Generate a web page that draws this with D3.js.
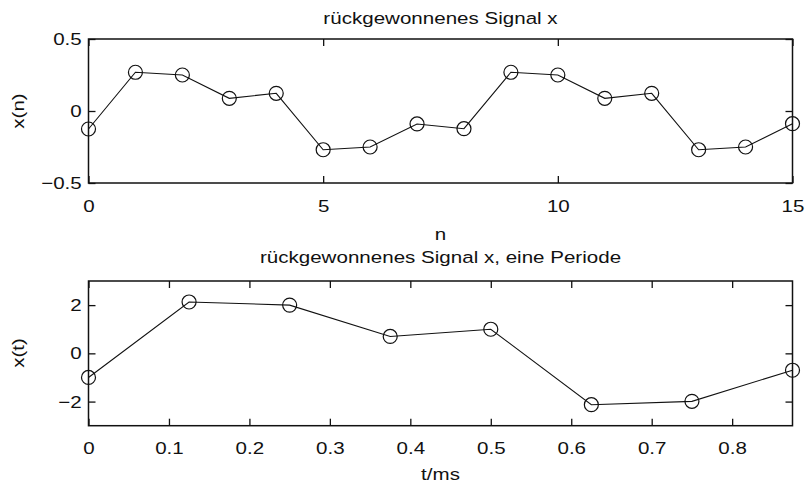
<!DOCTYPE html>
<html>
<head>
<meta charset="utf-8">
<script src="https://cdn.jsdelivr.net/npm/d3@7"></script>
<style>
  body { margin: 0; background: #fff; }
  svg text { font-family: "Liberation Sans", Arial, sans-serif; fill: #111; }
</style>
</head>
<body>
<svg id="chart" width="807" height="484"></svg>
<script>
// top panel: sample index and values
var nVals = [0, 1, 2, 3, 4, 5, 6, 7, 8, 9, 10, 11, 12, 13, 14, 15];
var xnVals = [-0.125, 0.269, 0.25, 0.088, 0.123, -0.269, -0.25, -0.09, -0.123, 0.269, 0.25, 0.088, 0.123, -0.269, -0.25, -0.088];
var nTicks = [0, 5, 10, 15];
var xnTicks = [-0.5, 0, 0.5];

// bottom panel: one period over time in ms
var tVals = [0, 0.125, 0.25, 0.375, 0.5, 0.625, 0.75, 0.875];
var xtVals = [-1.0, 2.13, 2.0, 0.7, 1.0, -2.13, -1.99, -0.7];
var tTicks = [0, 0.1, 0.2, 0.3, 0.4, 0.5, 0.6, 0.7, 0.8];
var xtTicks = [-2, 0, 2];

var svg = d3.select("#chart");
var fs = 17, sx = 1.21;   // glyphs in the reference are stretched horizontally
var left = 88.5, right = 792.5;
var fmt = d3.format("~g");

function label(x, y, txt, rot) {
  svg.append("text")
    .attr("transform", "translate(" + x + "," + y + ")" + (rot ? " rotate(-90)" : "") + " scale(" + sx + ",1)")
    .attr("text-anchor", "middle")
    .style("font-size", fs + "px")
    .text(txt);
}

function panel(xs, ys, xd, yd, xticks, yticks, top, bottom) {
  var x = d3.scaleLinear().domain(xd).range([left, right]);
  var y = d3.scaleLinear().domain(yd).range([bottom, top]);

  var ax = function(g) {
    g.select(".domain").remove();
    g.selectAll("line").attr("stroke", "#111").attr("stroke-width", 1.3);
    g.selectAll("text").style("font-size", fs + "px").attr("fill", "#111")
      .attr("font-family", null)
      .attr("transform", "scale(" + sx + ",1)");
  };

  svg.append("g").attr("transform", "translate(0," + bottom + ")")
    .call(d3.axisBottom(x).tickValues(xticks).tickFormat(fmt).tickSize(-7).tickPadding(16.5)).call(ax);
  svg.append("g").attr("transform", "translate(0," + top + ")")
    .call(d3.axisTop(x).tickValues(xticks).tickFormat("").tickSize(-7)).call(ax);
  svg.append("g").attr("transform", "translate(" + left + ",0)")
    .call(d3.axisLeft(y).tickValues(yticks).tickFormat(fmt).tickSize(-7).tickPadding(5.6)).call(ax);
  svg.append("g").attr("transform", "translate(" + right + ",0)")
    .call(d3.axisRight(y).tickValues(yticks).tickFormat("").tickSize(-7)).call(ax);

  svg.append("rect")
    .attr("x", left).attr("y", top)
    .attr("width", right - left).attr("height", bottom - top)
    .attr("fill", "none").attr("stroke", "#111").attr("stroke-width", 1.5);

  var pts = xs.map(function(d, i) { return [d, ys[i]]; });
  svg.append("path")
    .attr("d", d3.line().x(function(d) { return x(d[0]); }).y(function(d) { return y(d[1]); })(pts))
    .attr("fill", "none").attr("stroke", "#111").attr("stroke-width", 1.1);
  svg.append("g").selectAll("circle").data(pts).enter().append("circle")
    .attr("cx", function(d) { return x(d[0]); })
    .attr("cy", function(d) { return y(d[1]); })
    .attr("r", 7)
    .attr("fill", "none").attr("stroke", "#111").attr("stroke-width", 1.2);
}

panel(nVals, xnVals, [0, 15], [-0.5, 0.5], nTicks, xnTicks, 39, 183);
panel(tVals, xtVals, [0, 0.875], [-3, 3], tTicks, xtTicks, 281, 425.7);

var cx = (left + right) / 2;
label(cx, 24, "rückgewonnenes Signal x");
label(cx, 240, "n");
label(23.5, 111, "x(n)", true);
label(cx, 263, "rückgewonnenes Signal x, eine Periode");
label(cx, 480, "t/ms");
label(23.5, 353, "x(t)", true);
</script>
</body>
</html>
